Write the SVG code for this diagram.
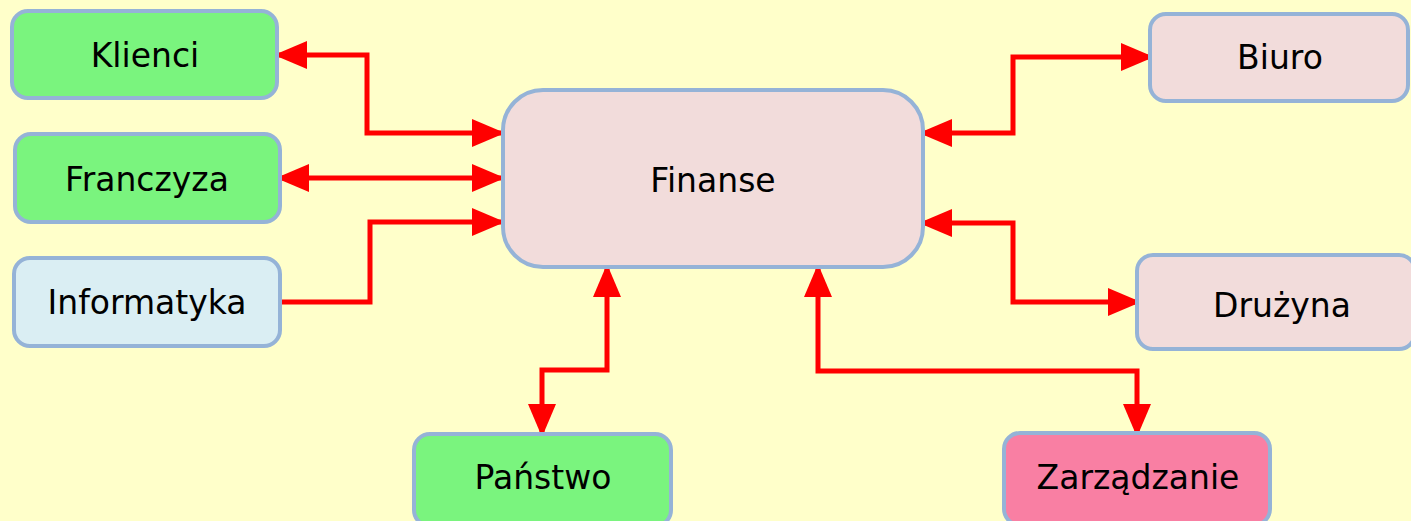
<svg xmlns="http://www.w3.org/2000/svg" width="1411" height="521" viewBox="0 0 1411 521">
  <style>
    .box { stroke: #95B3D7; stroke-width: 4; }
    .green { fill: #7AF47E; }
    .blue { fill: #DAEEF3; }
    .rose { fill: #F2DCDB; }
    .pink { fill: #F97FA3; }
    .label { font-family: "DejaVu Sans", Verdana, sans-serif; font-size: 33px; fill: #000; text-anchor: middle; }
    .link { fill: none; stroke: #FF0000; stroke-width: 5; }
  </style>
  <defs>
    <marker id="arrow" markerUnits="userSpaceOnUse" markerWidth="33" markerHeight="28" refX="33" refY="14" orient="auto-start-reverse" viewBox="0 0 33 28">
      <path d="M0,0 L33,14 L0,28 Z" fill="#FF0000"/>
    </marker>
  </defs>

  <rect width="1411" height="521" fill="#FFFFCA"/>

  <g id="connectors">
    <path class="link" d="M274,55 H367 V133 H505" marker-start="url(#arrow)" marker-end="url(#arrow)"/>
    <path class="link" d="M276,178 H505" marker-start="url(#arrow)" marker-end="url(#arrow)"/>
    <path class="link" d="M280,302 H370 V222 H505" marker-end="url(#arrow)"/>
    <path class="link" d="M919,133 H1013 V57 H1154" marker-start="url(#arrow)" marker-end="url(#arrow)"/>
    <path class="link" d="M919,223 H1013 V302 H1141" marker-start="url(#arrow)" marker-end="url(#arrow)"/>
    <path class="link" d="M607,264 V370 H542 V437" marker-start="url(#arrow)" marker-end="url(#arrow)"/>
    <path class="link" d="M818,264 V371 H1137 V437" marker-start="url(#arrow)" marker-end="url(#arrow)"/>
  </g>

  <g id="finanse">
    <rect class="box rose" x="503" y="90" width="420" height="177" rx="40"/>
    <text class="label" x="713" y="192">Finanse</text>
  </g>
  <g id="klienci">
    <rect class="box green" x="12" y="11" width="265" height="87" rx="16"/>
    <text class="label" x="145" y="67">Klienci</text>
  </g>
  <g id="franczyza">
    <rect class="box green" x="15" y="134" width="265" height="88" rx="16"/>
    <text class="label" x="147" y="191">Franczyza</text>
  </g>
  <g id="informatyka">
    <rect class="box blue" x="14" y="258" width="266" height="88" rx="16"/>
    <text class="label" x="147" y="314">Informatyka</text>
  </g>
  <g id="biuro">
    <rect class="box rose" x="1150" y="14" width="258" height="87" rx="16"/>
    <text class="label" x="1280" y="69">Biuro</text>
  </g>
  <g id="druzyna">
    <rect class="box rose" x="1137" y="255" width="278" height="94" rx="16"/>
    <text class="label" x="1282" y="317">Drużyna</text>
  </g>
  <g id="panstwo">
    <rect class="box green" x="414" y="434" width="257" height="92" rx="16"/>
    <text class="label" x="543" y="489">Państwo</text>
  </g>
  <g id="zarzadzanie">
    <rect class="box pink" x="1004" y="433" width="266" height="92" rx="16"/>
    <text class="label" x="1138" y="489">Zarządzanie</text>
  </g>
</svg>
